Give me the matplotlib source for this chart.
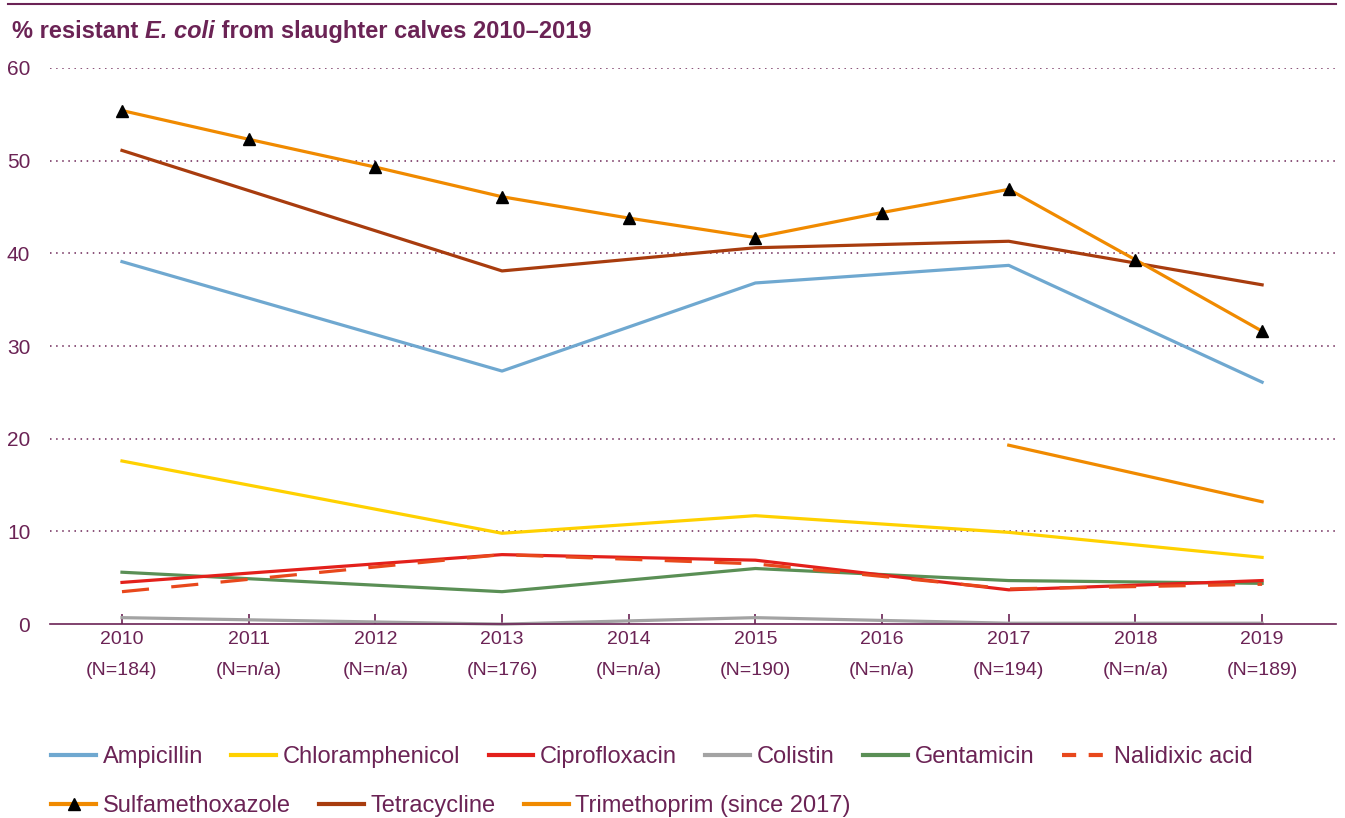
import numpy as np
import matplotlib
matplotlib.use('Agg')
import matplotlib.pyplot as plt
from matplotlib.lines import Line2D

plt.rcParams['font.family'] = ['Liberation Sans Narrow', 'Liberation Sans', 'DejaVu Sans']

# Data
years = [2010, 2011, 2012, 2013, 2014, 2015, 2016, 2017, 2018, 2019]
n_labels = ['184', 'n/a', 'n/a', '176', 'n/a', '190', 'n/a', '194', 'n/a', '189']

# observed years only (straight lines between them)
obs_years = [2010, 2013, 2015, 2017, 2019]
ampicillin = [39.1, 27.3, 36.8, 38.7, 26.1]
chloramphenicol = [17.6, 9.8, 11.7, 9.9, 7.2]
ciprofloxacin = [4.5, 7.5, 6.9, 3.7, 4.7]
colistin = [0.7, 0.0, 0.7, 0.1, 0.1]
gentamicin = [5.6, 3.5, 6.0, 4.7, 4.4]
nalidixic = [3.5, 7.5, 6.5, 3.8, 4.3]
tetracycline = [51.1, 38.1, 40.6, 41.3, 36.6]

# sulfamethoxazole has a marker for every year
sulfamethoxazole = [55.4, 52.3, 49.3, 46.1, 43.8, 41.7, 44.4, 46.9, 39.3, 31.6]

trim_years = [2017, 2019]
trimethoprim = [19.3, 13.2]

purple = '#6b2355'
c_amp = '#6fa8d0'
c_chl = '#ffd100'
c_cip = '#e3201b'
c_col = '#a3a3a3'
c_gen = '#5a8f55'
c_nal = '#e8481c'
c_sul = '#f08a00'
c_tet = '#a83c0e'
c_tri = '#f08a00'

fig = plt.figure(figsize=(13.45, 8.18), dpi=100)
ax = fig.add_axes([0.037, 0.237, 0.956, 0.680])

lw = 2.3
ax.plot(obs_years, ampicillin, color=c_amp, lw=lw, label='Ampicillin')
ax.plot(obs_years, chloramphenicol, color=c_chl, lw=lw, label='Chloramphenicol')
ax.plot(obs_years, gentamicin, color=c_gen, lw=lw, label='Gentamicin')
ax.plot(obs_years, colistin, color=c_col, lw=lw, label='Colistin', clip_on=False)
ax.plot(obs_years, ciprofloxacin, color=c_cip, lw=lw, label='Ciprofloxacin')
ax.plot(obs_years, nalidixic, color=c_nal, lw=lw, ls=(0, (8.5, 7)), label='Nalidixic acid')
ax.plot(obs_years, tetracycline, color=c_tet, lw=lw, label='Tetracycline')
ax.plot(years, sulfamethoxazole, color=c_sul, lw=lw, marker='^', ms=8,
        mfc='black', mec='black', label='Sulfamethoxazole', clip_on=False)
ax.plot(trim_years, trimethoprim, color=c_tri, lw=lw, label='Trimethoprim (since 2017)')

ax.set_xlim(2009.43, 2019.58)
ax.set_ylim(0, 60)
ax.set_yticks(range(0, 61, 10))
ax.set_xticks(years)
ax.set_xticklabels([f'{y}\n(N={n})' for y, n in zip(years, n_labels)],
                   fontsize=14, color=purple, linespacing=2.05)

for y in range(10, 61, 10):
    ax.axhline(y, color=purple, lw=1.1, ls=(0, (1, 3)), zorder=0)

for s in ['top', 'right', 'left']:
    ax.spines[s].set_visible(False)
ax.spines['bottom'].set_color(purple)
ax.spines['bottom'].set_linewidth(1.2)
ax.tick_params(axis='x', direction='in', length=7, color=purple, width=1.2, pad=5)
ax.tick_params(axis='y', length=0, pad=14, labelsize=15, labelcolor=purple)

# top rule and title
fig.add_artist(Line2D([0.006, 0.993], [0.995, 0.995], color=purple, lw=1.5,
                      transform=fig.transFigure))
t1 = fig.text(0.009, 0.961, '% resistant ', fontsize=17, fontweight='bold',
              color=purple, va='center', ha='left')
t2 = ax.annotate('E. coli', xy=(1, 0), xycoords=t1, va='bottom', ha='left',
                 fontsize=17, fontweight='bold', fontstyle='italic', color=purple)
ax.annotate(' from slaughter calves 2010\u20132019', xy=(1, 0), xycoords=t2,
            va='bottom', ha='left', fontsize=17, fontweight='bold', color=purple)

# legends: two rows
def h(color, ls='-', marker=None):
    return Line2D([], [], color=color, lw=3, ls=ls, marker=marker, ms=9,
                  mfc='black', mec='black')

row1 = [h(c_amp), h(c_chl), h(c_cip), h(c_col), h(c_gen), h(c_nal, ls=(0, (3.4, 3)))]
row1_lab = ['Ampicillin', 'Chloramphenicol', 'Ciprofloxacin', 'Colistin', 'Gentamicin', 'Nalidixic acid']
row2 = [h(c_sul, marker='^'), h(c_tet), h(c_tri)]
row2_lab = ['Sulfamethoxazole', 'Tetracycline', 'Trimethoprim (since 2017)']

kw = dict(frameon=False, fontsize=17, labelcolor=purple, handlelength=1.9,
          handletextpad=0.28, columnspacing=1.2, borderaxespad=0, borderpad=0,
          loc='center left')
leg1 = fig.legend(row1, row1_lab, ncol=6, bbox_to_anchor=(0.038, 1 - 757 / 818), **kw)
leg2 = fig.legend(row2, row2_lab, ncol=3, bbox_to_anchor=(0.038, 1 - 806 / 818), **kw)

fig.savefig('out.png', dpi=100)
